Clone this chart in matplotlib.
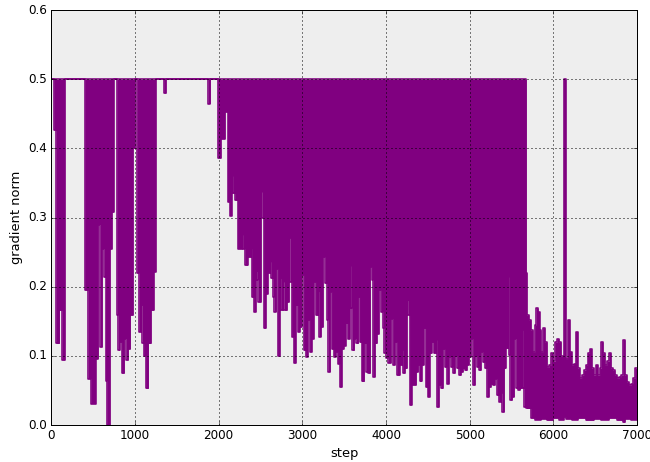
import matplotlib
matplotlib.use("Agg")
import matplotlib.pyplot as plt
import numpy as np

# gradient norm per training step, stored as min/max envelope segments
# (value holds from each step until the next one)
lo_step = [0, 30, 56, 96, 128, 160, 400, 440, 472, 528, 560, 584, 608, 632, 648, 664,
           700, 724, 744, 784, 800, 816, 840, 872, 896, 920, 944, 976, 1000, 1024,
           1048, 1072, 1088, 1104, 1128, 1160, 1191, 1223, 1247, 1345, 1370, 1875,
           1900, 1990, 2025, 2075, 2106, 2130, 2154, 2170, 2194, 2226, 2274, 2290,
           2314, 2345, 2387, 2395, 2419, 2443, 2459, 2475, 2506, 2522, 2538, 2562,
           2586, 2610, 2626, 2650, 2666, 2689, 2705, 2729, 2745, 2769, 2785, 2817,
           2841, 2857, 2873, 2896, 2920, 2944, 2968, 2992, 3016, 3040, 3064, 3088,
           3111, 3135, 3159, 3183, 3199, 3223, 3247, 3271, 3294, 3310, 3334, 3350,
           3374, 3398, 3422, 3446, 3470, 3493, 3517, 3541, 3565, 3581, 3597, 3621,
           3645, 3669, 3684, 3708, 3740, 3764, 3788, 3812, 3828, 3844, 3868, 3891,
           3915, 3939, 3963, 3979, 4003, 4027, 4059, 4082, 4106, 4130, 4162, 4186,
           4202, 4226, 4250, 4266, 4282, 4305, 4361, 4385, 4401, 4425, 4449, 4473,
           4496, 4520, 4544, 4568, 4592, 4608, 4632, 4656, 4680, 4703, 4727, 4751,
           4776, 4800, 4824, 4848, 4872, 4895, 4919, 4943, 4967, 4991, 5015, 5039,
           5063, 5086, 5110, 5134, 5158, 5182, 5206, 5230, 5254, 5277, 5301, 5325,
           5349, 5373, 5389, 5413, 5429, 5453, 5469, 5484, 5508, 5532, 5556, 5580,
           5604, 5620, 5636, 5652, 5676, 5731, 5779, 5851, 5922, 5996, 6067, 6123,
           6147, 6218, 6290, 6386, 6481, 6569, 6664, 6760, 6831, 6855, 6927, 7000]
grad_lo = [0.5, 0.426, 0.118, 0.166, 0.094, 0.5, 0.195, 0.067, 0.031, 0.096, 0.29,
           0.113, 0.255, 0.214, 0.064, 0.0, 0.255, 0.308, 0.5, 0.159, 0.108, 0.12,
           0.075, 0.125, 0.094, 0.11, 0.159, 0.40, 0.5, 0.22, 0.135, 0.173, 0.118,
           0.10, 0.053, 0.118, 0.166, 0.222, 0.5, 0.48, 0.5, 0.465, 0.5, 0.386,
           0.414, 0.453, 0.323, 0.303, 0.36, 0.335, 0.325, 0.255, 0.275, 0.255,
           0.231, 0.243, 0.255, 0.185, 0.164, 0.222, 0.21, 0.178, 0.337, 0.30,
           0.14, 0.19, 0.22, 0.236, 0.212, 0.185, 0.164, 0.226, 0.10, 0.212, 0.166,
           0.207, 0.166, 0.178, 0.27, 0.207, 0.128, 0.09, 0.173, 0.135, 0.142,
           0.217, 0.108, 0.099, 0.152, 0.106, 0.125, 0.207, 0.159, 0.193, 0.128,
           0.142, 0.243, 0.205, 0.152, 0.077, 0.193, 0.11, 0.099, 0.106, 0.089,
           0.055, 0.11, 0.115, 0.147, 0.125, 0.23, 0.169, 0.108, 0.125, 0.118,
           0.185, 0.12, 0.063, 0.118, 0.077, 0.075, 0.229, 0.21, 0.07, 0.118,
           0.132, 0.195, 0.164, 0.14, 0.104, 0.097, 0.09, 0.154, 0.087, 0.12,
           0.072, 0.087, 0.108, 0.075, 0.082, 0.18, 0.159, 0.029, 0.058, 0.077,
           0.087, 0.063, 0.087, 0.14, 0.055, 0.041, 0.104, 0.12, 0.104, 0.123,
           0.026, 0.058, 0.053, 0.11, 0.084, 0.06, 0.099, 0.084, 0.075, 0.10,
           0.082, 0.072, 0.077, 0.082, 0.079, 0.087, 0.099, 0.125, 0.058, 0.10,
           0.084, 0.079, 0.106, 0.091, 0.082, 0.041, 0.055, 0.06, 0.058, 0.067,
           0.043, 0.034, 0.046, 0.019, 0.082, 0.111, 0.214, 0.101, 0.036, 0.041,
           0.125, 0.053, 0.051, 0.053, 0.137, 0.053, 0.026, 0.024, 0.010, 0.008,
           0.009, 0.007, 0.010, 0.008, 0.012, 0.009, 0.008, 0.010, 0.007, 0.009,
           0.008, 0.010, 0.007, 0.004, 0.009, 0.008, 0.008]

hi_step = [0, 5676, 5683, 5707, 5731, 5755, 5779, 5795, 5819, 5835, 5851, 5874,
           5898, 5924, 5948, 5972, 5996, 6019, 6043, 6067, 6091, 6123, 6147, 6171,
           6195, 6218, 6242, 6266, 6290, 6314, 6338, 6362, 6386, 6409, 6433, 6457,
           6481, 6505, 6529, 6553, 6569, 6593, 6616, 6640, 6664, 6688, 6712, 6736,
           6760, 6784, 6808, 6831, 6855, 6879, 6903, 6927, 6951, 6975, 7000]
grad_hi = [0.5, 0.22, 0.159, 0.152, 0.137, 0.106, 0.145, 0.169, 0.164, 0.137, 0.106,
           0.14, 0.12, 0.084, 0.087, 0.104, 0.092, 0.12, 0.125, 0.12, 0.10, 0.5,
           0.096, 0.152, 0.106, 0.087, 0.089, 0.135, 0.082, 0.068, 0.072, 0.079,
           0.087, 0.104, 0.11, 0.082, 0.072, 0.087, 0.072, 0.082, 0.12, 0.104,
           0.087, 0.092, 0.104, 0.082, 0.079, 0.072, 0.068, 0.07, 0.072, 0.123,
           0.072, 0.062, 0.058, 0.06, 0.068, 0.082, 0.082]

plt.style.use("classic")
plt.rcParams["figure.facecolor"] = "white"
plt.rcParams["savefig.facecolor"] = "white"
plt.rcParams["font.size"] = 12
plt.rcParams["axes.labelsize"] = 13

color = "purple"

# put both envelopes on a common set of breakpoints (step-hold lookup)
x = np.union1d(lo_step, hi_step)
lo = np.asarray(grad_lo)[np.searchsorted(lo_step, x, side="right") - 1]
hi = np.asarray(grad_hi)[np.searchsorted(hi_step, x, side="right") - 1]

fig = plt.figure(figsize=(650 / 72, 462 / 72))
ax = fig.add_axes([0.079, 0.080, 0.901, 0.898])
ax.set_facecolor("#eeeeee")

ax.fill_between(x, lo, hi, step="post", color=color, linewidth=0)
ax.step(lo_step, grad_lo, where="post", color=color, linewidth=1.6)
ax.step(hi_step, grad_hi, where="post", color=color, linewidth=1.6)

ax.set_xlim(0, 7000)
ax.set_ylim(0, 0.6)
ax.set_xticks(np.arange(0, 7001, 1000))
ax.set_yticks(np.arange(0, 0.61, 0.1))
ax.grid(True, color="k", linestyle=(0, (1, 3)), linewidth=1.0)
ax.set_xlabel("step")
ax.set_ylabel("gradient norm")

fig.savefig("out.png", dpi=72)
